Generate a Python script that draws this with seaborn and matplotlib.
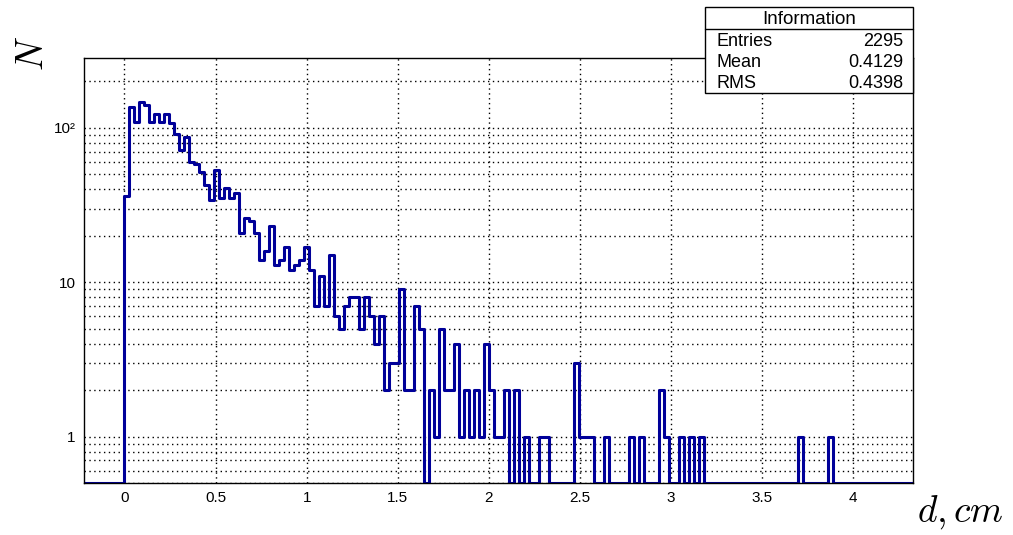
import numpy as np
import pandas as pd
import matplotlib
matplotlib.use("Agg")
import matplotlib.pyplot as plt
import matplotlib.ticker as mticker
import seaborn as sns

# histogram of d: bins of width 0.0274 starting at d = 0 (counts)
bin_width = 0.0274
counts = [
    36, 137, 110, 148, 141, 110, 124, 110, 124, 108,
    92, 72, 88, 60, 58, 52, 43, 34, 53, 35,
    41, 35, 38, 21, 26, 25, 21, 14, 16, 23,
    13, 14, 17, 12, 13, 14, 17, 12, 7, 11,
    7, 15, 6, 5, 7, 8, 8, 5, 8, 6,
    4, 6, 2, 3, 3, 9, 2, 2, 7, 5,
    0, 2, 1, 5, 2, 2, 4, 1, 2, 1,
    2, 1, 4, 2, 1, 1, 2, 0, 2, 0,
    1, 0, 0, 1, 1, 0, 0, 0, 0, 0,
    3, 1, 1, 1, 0, 0, 1, 0, 0, 0,
    0, 1, 0, 1, 0, 0, 0, 2, 1, 0,
    0, 1, 0, 1, 0, 1, 0, 0, 0, 0,
    0, 0, 0, 0, 0, 0, 0, 0, 0, 0,
    0, 0, 0, 0, 0, 1, 0, 0, 0, 0,
    0, 1, 0, 0, 0, 0, 0, 0, 0, 0,
    0, 0, 0, 0, 0, 0, 0, 0, 0,
]
n_neg = 9  # empty bins below zero
x_min, x_max = -0.222, 4.328
y_min, y_max = 0.5, 284

stats_rows = [("Entries", "2295"), ("Mean", "0.4129"), ("RMS", "0.4398")]

edges = np.arange(-n_neg, len(counts) + 1) * bin_width
df = pd.DataFrame({
    "d": edges[:-1] + bin_width / 2,
    "n": [0] * n_neg + counts,
})

sns.set_style("white")
plt.rcParams["font.family"] = ["Liberation Sans", "DejaVu Sans"]
plt.rcParams["mathtext.fontset"] = "cm"
plt.rcParams["text.color"] = "black"

fig = plt.figure(figsize=(10.13, 5.35), dpi=100)
ax = fig.add_axes([84 / 1013, 1 - 483 / 535, 829 / 1013, 425 / 535])

sns.histplot(data=df, x="d", weights="n", bins=list(edges), element="step", fill=False,
             color="#000099", linewidth=2.2, ax=ax)
ax.set_yscale("log")
# empty bins are drawn along the bottom of the frame, like ROOT does on a log axis
for ln in ax.get_lines():
    yd = np.asarray(ln.get_ydata(), dtype=float)
    ln.set_ydata(np.where(yd <= 0, y_min, yd))
ax.set_xlim(x_min, x_max)
ax.set_ylim(y_min, y_max)

ax.xaxis.set_major_locator(mticker.MultipleLocator(0.5))
ax.xaxis.set_minor_locator(mticker.MultipleLocator(0.1))
ax.xaxis.set_major_formatter(mticker.FuncFormatter(lambda v, p: f"{v:g}"))
ax.yaxis.set_major_locator(mticker.FixedLocator([1, 10, 100]))
ax.yaxis.set_major_formatter(mticker.FixedFormatter(["1", "10", "10²"]))
ax.yaxis.set_minor_locator(mticker.LogLocator(base=10, subs=np.arange(2, 10)))
ax.yaxis.set_minor_formatter(mticker.NullFormatter())

ax.tick_params(axis="both", which="both", direction="in", colors="black",
               labelsize=11, top=False, right=False)
ax.tick_params(axis="x", which="major", length=11, width=1, pad=6)
ax.tick_params(axis="x", which="minor", length=5, width=1)
ax.tick_params(axis="y", which="both", length=11, width=1, pad=6)

ax.grid(True, which="major", axis="x", color="black", linestyle=(0, (1, 2.5)), linewidth=1)
ax.grid(True, which="both", axis="y", color="black", linestyle=(0, (1, 2.5)), linewidth=1)
ax.set_axisbelow(True)
for s in ax.spines.values():
    s.set_color("black")
    s.set_linewidth(1)

ax.set_xlabel("")
ax.set_ylabel("")
fig.text(0.948, 0.008, r"$d, cm$", fontsize=27, ha="center", va="bottom")
fig.text(0.033, 0.9, r"$N$", fontsize=27, rotation=90, ha="center", va="center")

# stats box
bx0, bx1 = 705 / 1013, 913 / 1013
by_top, by_bot = 1 - 7 / 535, 1 - 93 / 535
box = plt.Rectangle((bx0, by_bot), bx1 - bx0, by_top - by_bot, transform=fig.transFigure,
                    facecolor="white", edgecolor="black", linewidth=1, zorder=5)
fig.add_artist(box)
sep_y = 1 - 29 / 535
fig.add_artist(plt.Line2D([bx0, bx1], [sep_y, sep_y], transform=fig.transFigure,
                          color="black", linewidth=1, zorder=6))
fig.text((bx0 + bx1) / 2, 1 - 19 / 535, "Information", ha="center", va="center",
         fontsize=13.5, zorder=7)
for k, (name, val) in enumerate(stats_rows):
    yy = 1 - (41.5 + 21.2 * k) / 535
    fig.text(717 / 1013, yy, name, ha="left", va="center", fontsize=13, zorder=7)
    fig.text(903 / 1013, yy, val, ha="right", va="center", fontsize=13, zorder=7)

fig.savefig("out.png", dpi=100)
